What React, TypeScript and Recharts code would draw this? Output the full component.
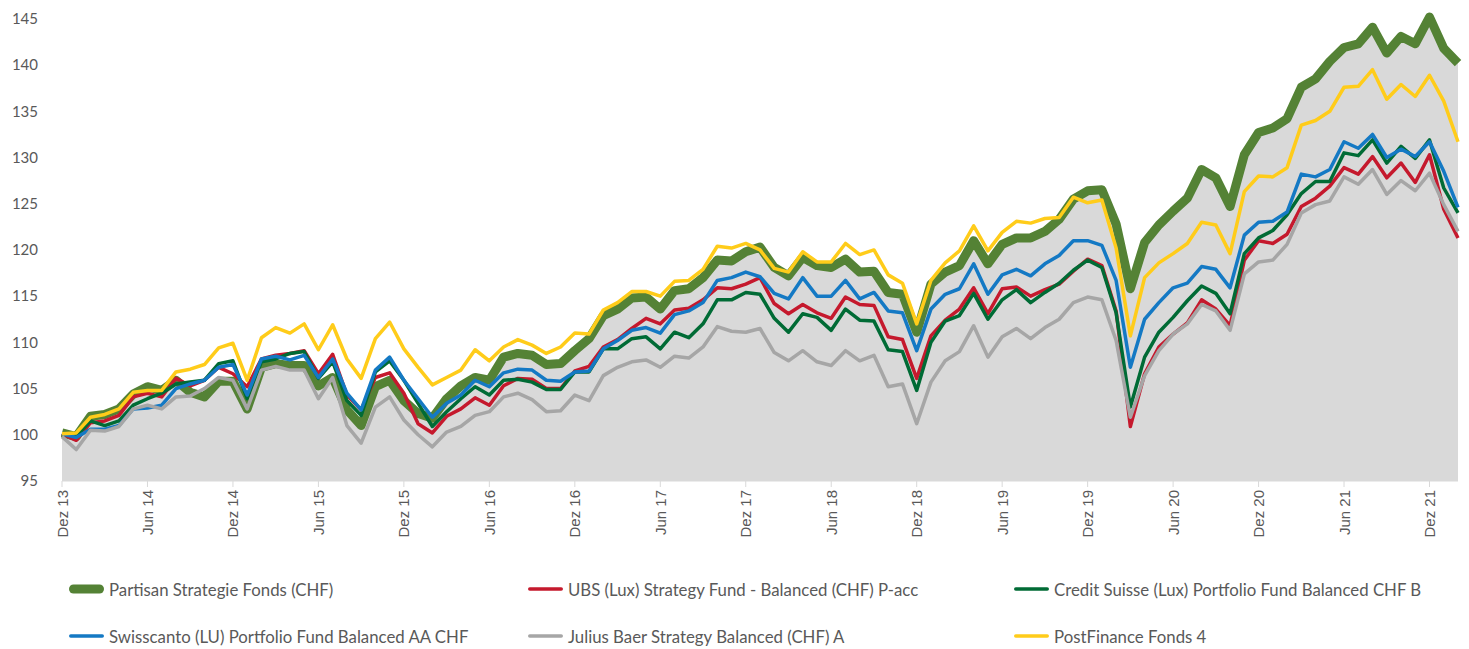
import { ComposedChart, Area, Line, XAxis, YAxis } from 'recharts';

const MONTHS = ['Jan', 'Feb', 'Mrz', 'Apr', 'Mai', 'Jun', 'Jul', 'Aug', 'Sep', 'Okt', 'Nov', 'Dez'];
const FIRST_MONTH = 11; // Dez 13
const FIRST_YEAR = 13;

const Y_TICKS = [95, 100, 105, 110, 115, 120, 125, 130, 135, 140, 145];

const partisan = [
  100.2, 99.8, 102.0, 102.2, 102.8, 104.4, 105.2, 104.8, 105.9, 104.6, 104.1, 105.8, 105.8, 102.8, 107.3, 107.7, 107.5, 107.5, 105.3, 106.2,
  102.7, 101.0, 105.2, 105.9, 103.7, 102.3, 101.8, 103.9, 105.3, 106.2, 105.9, 108.4, 108.8, 108.6, 107.6, 107.7, 109.1, 110.4, 112.9, 113.6,
  114.8, 114.9, 113.6, 115.6, 115.8, 117.0, 118.9, 118.8, 119.8, 120.3, 118.1, 117.2, 119.2, 118.3, 118.1, 119.0, 117.6, 117.7, 115.4, 115.2,
  111.1, 116.3, 117.6, 118.3, 121.0, 118.5, 120.6, 121.3, 121.3, 122.0, 123.3, 125.5, 126.4, 126.5, 122.8, 115.8, 120.8, 122.7, 124.2, 125.6,
  128.7, 127.8, 124.7, 130.3, 132.7, 133.2, 134.2, 137.6, 138.5, 140.4, 141.9, 142.3, 144.1, 141.3, 143.1, 142.3, 145.2, 141.8, 140.2,
];

const ubs = [
  100.1, 99.4, 101.3, 101.5, 102.1, 104.1, 104.5, 104.1, 106.1, 105.3, 105.9, 107.3, 106.6, 105.2, 108.2, 108.6, 108.8, 109.1, 106.6, 108.7,
  104.3, 102.7, 106.2, 106.7, 104.5, 101.2, 100.2, 102.0, 102.8, 104.0, 103.2, 105.3, 106.1, 106.0, 105.0, 105.0, 106.9, 107.4, 109.5, 110.3,
  111.5, 112.6, 112.0, 113.5, 113.7, 114.6, 115.9, 115.8, 116.3, 117.0, 114.2, 113.1, 114.1, 113.2, 112.6, 114.9, 114.1, 114.0, 110.6, 110.3,
  106.1, 110.7, 112.4, 113.6, 115.9, 113.1, 115.8, 116.0, 115.0, 115.7, 116.3, 117.7, 119.0, 118.3, 113.4, 100.9, 106.6, 109.5, 110.9, 112.1,
  114.6, 113.6, 111.8, 118.9, 121.0, 120.7, 121.7, 124.7, 125.6, 126.9, 128.9, 128.2, 130.1, 127.8, 129.4, 127.3, 130.3, 124.4, 121.3,
];

const creditSuisse = [
  100.1, 99.8, 101.5, 101.0, 101.5, 103.2, 103.9, 104.5, 105.5, 105.7, 105.9, 107.7, 108.0, 103.9, 107.9, 108.2, 108.8, 109.0, 106.1, 107.9,
  103.7, 102.1, 106.8, 108.0, 105.9, 103.4, 100.9, 102.5, 103.9, 105.2, 104.3, 105.9, 106.0, 105.7, 104.9, 104.9, 106.8, 106.8, 109.3, 109.3,
  110.4, 110.6, 109.3, 111.1, 110.5, 112.0, 114.6, 114.6, 115.4, 115.2, 112.6, 111.1, 113.1, 112.7, 111.3, 113.6, 112.4, 112.3, 109.2, 109.0,
  104.8, 110.0, 112.3, 112.9, 115.3, 112.5, 114.6, 115.7, 114.3, 115.4, 116.4, 117.8, 118.9, 118.1, 113.2, 103.0, 108.4, 111.1, 112.7, 114.5,
  116.1, 115.3, 113.1, 119.6, 121.3, 122.1, 123.8, 126.1, 127.4, 127.4, 130.5, 130.2, 131.9, 129.4, 131.2, 129.9, 131.9, 126.7, 124.0,
];

const swisscanto = [
  100.1, 99.7, 100.6, 100.6, 101.0, 102.8, 102.9, 103.2, 105.0, 105.5, 105.9, 107.3, 107.6, 104.3, 108.2, 108.5, 108.1, 108.6, 106.2, 108.2,
  104.5, 102.7, 107.0, 108.4, 105.9, 103.9, 101.9, 103.4, 104.3, 105.9, 105.2, 106.7, 107.1, 107.0, 105.9, 105.8, 106.8, 106.9, 109.3, 110.2,
  111.3, 111.6, 111.0, 113.0, 113.4, 114.3, 116.7, 117.0, 117.6, 117.1, 115.3, 114.7, 117.0, 115.0, 115.0, 116.7, 114.7, 115.4, 113.4, 113.2,
  109.1, 113.6, 115.2, 115.8, 118.5, 115.2, 117.3, 117.9, 117.2, 118.5, 119.4, 121.0, 121.0, 120.5, 116.7, 107.3, 112.5, 114.3, 115.9, 116.4,
  118.2, 117.9, 115.9, 121.6, 123.0, 123.1, 124.1, 128.2, 127.9, 128.7, 131.7, 131.0, 132.5, 130.0, 130.9, 130.1, 131.7, 128.5, 124.6,
];

const juliusBaer = [
  99.8, 98.4, 100.5, 100.4, 100.9, 102.8, 103.2, 102.8, 104.1, 104.2, 105.0, 106.2, 105.9, 102.8, 107.0, 107.4, 107.0, 107.0, 103.9, 106.2,
  101.0, 99.1, 103.0, 104.1, 101.6, 100.0, 98.7, 100.3, 100.9, 102.1, 102.5, 104.1, 104.5, 103.8, 102.5, 102.6, 104.3, 103.7, 106.4, 107.3,
  107.9, 108.1, 107.3, 108.5, 108.3, 109.5, 111.7, 111.2, 111.1, 111.5, 108.9, 108.0, 109.1, 107.9, 107.5, 109.1, 108.0, 108.6, 105.2, 105.5,
  101.2, 105.7, 108.0, 109.0, 111.8, 108.4, 110.6, 111.5, 110.4, 111.6, 112.5, 114.3, 114.9, 114.6, 110.2, 101.9, 106.4, 109.1, 110.9, 112.0,
  114.1, 113.4, 111.3, 117.4, 118.7, 118.9, 120.6, 124.0, 124.9, 125.3, 127.9, 127.1, 128.7, 126.0, 127.5, 126.4, 128.3, 124.9, 122.0,
];

const postFinance = [
  100.1, 100.2, 101.9, 102.2, 102.8, 104.6, 104.8, 104.8, 106.8, 107.1, 107.6, 109.4, 109.9, 105.9, 110.5, 111.6, 111.0, 112.0, 109.2, 111.9,
  108.2, 106.1, 110.4, 112.2, 109.3, 107.3, 105.4, 106.2, 107.0, 109.2, 108.0, 109.5, 110.3, 109.7, 108.8, 109.5, 111.0, 110.9, 113.5, 114.3,
  115.5, 115.5, 115.0, 116.6, 116.7, 117.9, 120.4, 120.2, 120.7, 120.0, 118.0, 117.6, 119.8, 118.7, 118.7, 120.7, 119.5, 120.0, 117.3, 116.4,
  112.0, 116.7, 118.6, 119.9, 122.6, 119.9, 121.9, 123.1, 122.9, 123.4, 123.5, 125.7, 125.1, 125.4, 120.2, 110.7, 117.0, 118.6, 119.6, 120.7,
  123.0, 122.7, 119.6, 126.3, 128.0, 127.9, 128.9, 133.5, 134.0, 135.0, 137.6, 137.7, 139.5, 136.3, 137.9, 136.6, 138.9, 136.1, 131.7,
];

const periods = partisan.map((_, i) => {
  const m = FIRST_MONTH + i;
  return `${MONTHS[m % 12]} ${FIRST_YEAR + Math.floor(m / 12)}`;
});

const SERIES = [
  { key: 'partisan', name: 'Partisan Strategie Fonds (CHF)', color: '#548235', width: 9 },
  { key: 'ubs', name: 'UBS (Lux) Strategy Fund - Balanced (CHF) P-acc', color: '#C5192D', width: 3.5 },
  { key: 'creditSuisse', name: 'Credit Suisse (Lux) Portfolio Fund Balanced CHF B', color: '#006B35', width: 3.5 },
  { key: 'swisscanto', name: 'Swisscanto (LU) Portfolio Fund Balanced AA CHF', color: '#1479C4', width: 3.5 },
  { key: 'juliusBaer', name: 'Julius Baer Strategy Balanced (CHF) A', color: '#A6A6A6', width: 3.5 },
  { key: 'postFinance', name: 'PostFinance Fonds 4', color: '#FFCC1A', width: 3.5 },
];

const chartData = periods.map((period, i) => ({
  period,
  partisan: partisan[i],
  ubs: ubs[i],
  creditSuisse: creditSuisse[i],
  swisscanto: swisscanto[i],
  juliusBaer: juliusBaer[i],
  postFinance: postFinance[i],
}));

const TEXT = '#595959';
const FONT = "Lato, 'Open Sans', sans-serif";

function MonthTick({ x, y, payload }: any) {
  return (
    <text
      transform={`translate(${x},${y}) rotate(-90)`}
      textAnchor="end"
      dominantBaseline="central"
      fill={TEXT}
      fontSize={15}
      fontFamily="'Liberation Sans', Arial, sans-serif"
    >
      {payload.value}
    </text>
  );
}

const LEGEND_COLS = [68, 527, 1013];
const LEGEND_ROWS = [589, 636];

export default function App() {
  return (
    <div style={{ position: 'absolute', left: 0, top: 0, width: 1469, height: 649, background: '#fff', fontFamily: FONT }}>
      <ComposedChart width={1469} height={560} data={chartData} margin={{ top: 17, right: 11, bottom: 0, left: 0 }}>
        <XAxis
          dataKey="period"
          scale="point"
          interval={5}
          height={79}
          tickSize={6}
          tickMargin={3}
          padding={{ left: 0, right: 0 }}
          axisLine={{ stroke: '#D9D9D9' }}
          tickLine={{ stroke: '#D9D9D9' }}
          tick={<MonthTick />}
        />
        <YAxis
          domain={[95, 145]}
          ticks={Y_TICKS}
          width={62}
          axisLine={false}
          tickLine={false}
          tickSize={0}
          tickMargin={24}
          tick={{ fill: TEXT, fontSize: 15, fontFamily: FONT }}
        />
        <Area
          isAnimationActive={false}
          type="linear"
          dataKey="partisan"
          stroke={SERIES[0].color}
          strokeWidth={SERIES[0].width}
          strokeLinejoin="round"
          fill="#D9D9D9"
          fillOpacity={1}
          dot={false}
          activeDot={false}
        />
        {SERIES.slice(1).map((s) => (
          <Line
            key={s.key}
            isAnimationActive={false}
            type="linear"
            dataKey={s.key}
            stroke={s.color}
            strokeWidth={s.width}
            strokeLinejoin="round"
            dot={false}
            activeDot={false}
          />
        ))}
      </ComposedChart>
      {SERIES.map((s, i) => {
        const col = LEGEND_COLS[i % 3];
        const row = LEGEND_ROWS[Math.floor(i / 3)];
        return (
          <div
            key={s.key}
            style={{ position: 'absolute', left: col, top: row - 12, height: 24, display: 'flex', alignItems: 'center', whiteSpace: 'nowrap' }}
          >
            <svg width={37} height={12} style={{ marginRight: 4 }}>
              <line x1={s.width / 2 + 1} y1={6} x2={36 - s.width / 2} y2={6} stroke={s.color} strokeWidth={s.width} strokeLinecap="round" />
            </svg>
            <span style={{ fontSize: 16.8, color: TEXT }}>{s.name}</span>
          </div>
        );
      })}
    </div>
  );
}
